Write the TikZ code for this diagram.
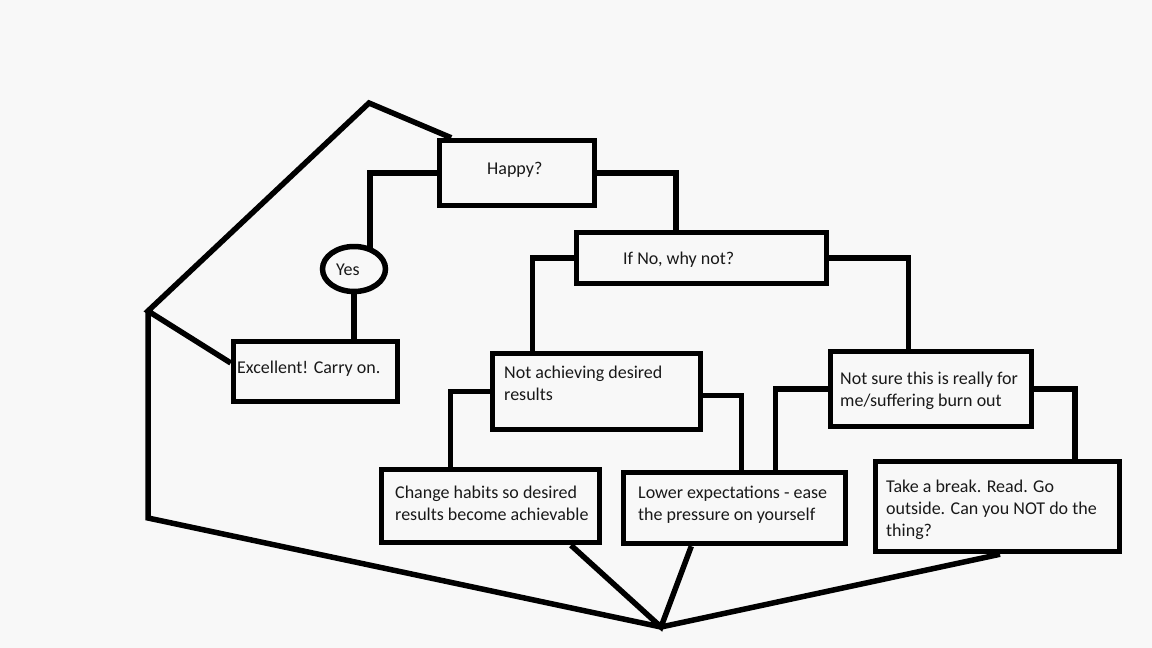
\documentclass[tikz,border=0pt]{standalone}
\usepackage{fontspec}
\setmainfont{Carlito}
\usetikzlibrary{calc,shapes.geometric}
\definecolor{bg}{RGB}{248,248,248}
\tikzset{
  box/.style={draw=black, line width=5.5pt, rectangle, fill=bg},
  oval/.style={draw=black, line width=5.5pt, ellipse, fill=bg},
  txt/.style={inner sep=0pt, align=left, font=\fontsize{18}{22}\selectfont, text=black!90},
  conn/.style={line width=5.5pt, line join=miter, line cap=rect},
}
\begin{document}
\begin{tikzpicture}[x=1pt,y=-1pt]
\fill[bg] (0,0) rectangle (1152,648);
\useasboundingbox (0,0) rectangle (1152,648);

\coordinate (apex) at (369,103);
\coordinate (cL) at (148,311);
\coordinate (cB) at (148,518);
\coordinate (bot) at (661,627);

% boxes
\node[box, minimum width=155pt, minimum height=65pt] (happy) at (517,173) {};
\node[box, minimum width=164pt, minimum height=60pt] (exc) at (315.5,371.5) {};
\node[oval, minimum width=63pt, minimum height=45pt] (yes) at (354,269) {};
\node[box, minimum width=250pt, minimum height=51pt] (ifno) at (701.5,258) {};
\node[box, minimum width=208pt, minimum height=76pt] (notach) at (596.5,391.5) {};
\node[box, minimum width=201pt, minimum height=75pt] (notsure) at (931,389) {};
\node[box, minimum width=218pt, minimum height=73pt] (change) at (490.5,506) {};
\node[box, minimum width=222pt, minimum height=71pt] (lower) at (734.5,508) {};
\node[box, minimum width=244pt, minimum height=90pt] (take) at (997.5,506.5) {};

% texts (anchor = baseline of last line)
\node[txt, anchor=base west] (happyT) at (487,174) {Happy?};
\node[txt, anchor=base west] (yesT) at (336,275) {Yes};
\node[txt, anchor=base west] (excT) at (237,373) {Excellent! Carry on.};
\node[txt, anchor=base west] (ifnoT) at (623,264) {If No, why not?};
\node[txt, anchor=base west] (notachT) at (504,400) {Not achieving desired\\results};
\node[txt, anchor=base west] (notsureT) at (840,406) {Not sure this is really for\\me/suffering burn out};
\node[txt, anchor=base west] (changeT) at (395,520) {Change habits so desired\\results become achievable};
\node[txt, anchor=base west] (lowerT) at (638,520) {Lower expectations - ease\\the pressure on yourself};
\node[txt, anchor=base west] (takeT) at (886,536) {Take a break. Read. Go\\outside. Can you NOT do the\\thing?};

% tree connectors
\draw[conn] (happy.west) -| (yes.54);
\draw[conn] (yes.south) -- (yes.south |- exc.north);
\draw[conn] (happy.east) -| ($(ifno.north west)!0.4!(ifno.north east)$);
\draw[conn] (ifno.west) -| ($(notach.north west)!0.2!(notach.north east)$);
\draw[conn] (ifno.east) -| ($(notsure.north west)!0.39!(notsure.north east)$);
\draw[conn] (notach.west) -| ($(change.north west)!0.32!(change.north east)$);
\draw[conn] ($(notach.north east)!0.55!(notach.south east)$) -| ($(lower.north west)!0.53!(lower.north east)$);
\draw[conn] (notsure.west) -| ($(lower.north west)!0.68!(lower.north east)$);
\draw[conn] (notsure.east) -| ($(take.north west)!0.81!(take.north east)$);

% outline
\draw[conn, line cap=butt] ($(happy.north west)!0.09!(happy.north east)$) -- (apex) -- (cL) -- ($(exc.north west)!0.37!(exc.south west)$);
\draw[conn, line cap=butt] (cL) -- (cB) -- (bot);
\draw[conn, line cap=butt] ($(change.south west)!0.86!(change.south east)$) -- (bot) -- ($(lower.south west)!0.31!(lower.south east)$);
\draw[conn, line cap=butt] ($(take.south west)!0.51!(take.south east)$) -- (bot);
\end{tikzpicture}
\end{document}
